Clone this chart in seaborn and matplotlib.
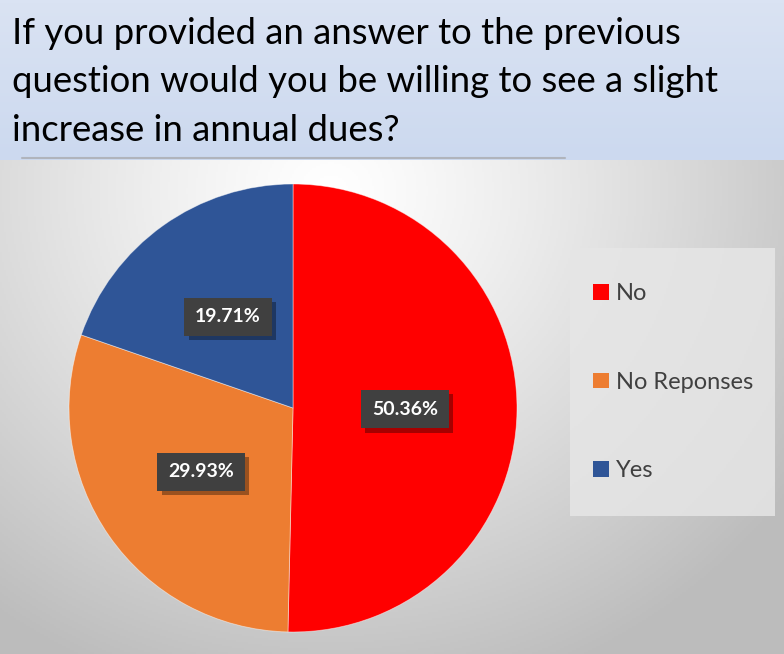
import numpy as np
import matplotlib
matplotlib.use("Agg")
import matplotlib.pyplot as plt
import seaborn as sns
from matplotlib.patches import Patch, Rectangle
from matplotlib.lines import Line2D
import matplotlib.patheffects as pe

# Dữ liệu
categories = ["No", "No Reponses", "Yes"]
percentages = [50.36, 29.93, 19.71]
colors = ["#FF0000", "#ED7D31", "#2F5597"]
title_text = ("If you provided an answer to the previous\n"
              "question would you be willing to see a slight\n"
              "increase in annual dues?")

sns.set_theme(style="white")
plt.rcParams['font.family'] = ['Lato', 'DejaVu Sans']

W, H = 784, 654
fig = plt.figure(figsize=(W / 100, H / 100), dpi=100)

# Nền: dải tiêu đề xanh nhạt + vùng biểu đồ gradient xám
bg = fig.add_axes([0, 0, 1, 1])
bg.set_xlim(0, W)
bg.set_ylim(H, 0)
bg.axis('off')

ty = np.linspace(0, 1, 50)[:, None]
top_band = np.ones((50, 2, 3))
c1 = np.array([0xDA, 0xE3, 0xF3]) / 255
c2 = np.array([0xCC, 0xD9, 0xEF]) / 255
top_band[:] = (c1 * (1 - ty[..., None]) + c2 * ty[..., None])
bg.imshow(top_band, extent=[0, W, 160, 0], aspect='auto', zorder=0)

yy, xx = np.mgrid[160:H:2, 0:W:2]
dist = np.sqrt(((xx - 330) / 560) ** 2 + ((yy - 190) / 520) ** 2)
shade = np.clip(1.0 - 0.26 * dist ** 1.2, 0.74, 1.0)
grad = np.dstack([shade, shade, shade])
bg.imshow(grad, extent=[0, W, H, 160], aspect='auto', zorder=0)

bg.add_line(Line2D([22, 565], [158, 158], color="#B0B4BC", lw=1.5, zorder=1))
bg.add_patch(Rectangle((570, 248), 205, 268, facecolor="#E6E6E6",
                       edgecolor="none", alpha=0.85, zorder=1))

bg.text(12, 17, title_text, fontsize=26.3, color="black", va='top', ha='left',
        linespacing=1.57, zorder=2)

# Biểu đồ tròn
ax = fig.add_axes([(293 - 224) / W, (H - 632) / H, 448 / W, 448 / H])
wedges, texts, autotexts = ax.pie(
    percentages, colors=colors, startangle=90, counterclock=False,
    autopct=lambda p: f"{p:.2f}%", pctdistance=0.5, radius=1,
    wedgeprops=dict(linewidth=0.6, edgecolor="#FFFFFF80"),
    textprops=dict(color="white", fontsize=14, fontweight='bold'))
for t in autotexts:
    t.set_bbox(dict(boxstyle="square,pad=0.55", facecolor="#404040",
                    edgecolor="none",
                    path_effects=[pe.withSimplePatchShadow(offset=(3, -3),
                                                           shadow_rgbFace="#000000",
                                                           alpha=0.35)]))
ax.set_xlim(-1, 1)
ax.set_ylim(-1, 1)
ax.set_aspect('equal')
ax.patch.set_visible(False)

# Chú giải
handles = [Patch(facecolor=c, edgecolor='none') for c in colors]
fig.legend(handles, categories, loc='upper left',
           bbox_to_anchor=(572 / W, 1 - 262 / H), frameon=False,
           fontsize=17, labelcolor="#404040", handlelength=0.65,
           handleheight=0.65, handletextpad=0.3, labelspacing=2.86)

fig.savefig("out.png", dpi=100)
